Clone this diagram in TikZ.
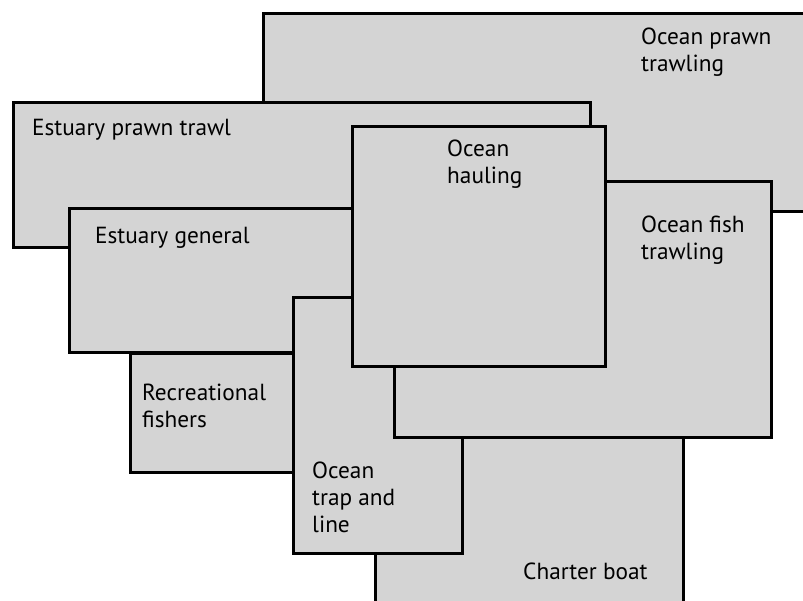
\documentclass[tikz,border=0pt]{standalone}
\usepackage{fontspec}
\setmainfont{PT Sans}
\definecolor{boxgrey}{HTML}{D4D4D4}
\tikzset{
  area/.style={draw=black, fill=boxgrey, line width=3pt, line join=miter},
  lbl/.style={anchor=base west, inner sep=0pt, align=left, font=\fontsize{23.3pt}{27pt}\selectfont}
}
\begin{document}
\begin{tikzpicture}[x=1pt,y=-1pt]
\useasboundingbox (0,0) rectangle (803,601);
\begin{scope}
\clip (0,0) rectangle (803,601);
% bottom to top
\draw[area] (263,14) rectangle (830,212);
\node[lbl] (opt) at (641,72) {Ocean prawn\\trawling};
\draw[area] (13,103) rectangle (590,248);
\node[lbl] (ept) at (32,136) {Estuary prawn trawl};
\draw[area] (69,209) rectangle (420,353);
\node[lbl] (eg) at (95,244) {Estuary general};
\draw[area] (130,354) rectangle (330,472);
\node[lbl] (rf) at (142,427) {Recreational\\fishers};
\draw[area] (375,420) rectangle (683,630);
\node[lbl] (cb) at (523,579) {Charter boat};
\draw[area] (293,298) rectangle (462,553);
\node[lbl] (otl) at (312,532) {Ocean\\trap and\\line};
\draw[area] (394,182) rectangle (771,437);
\node[lbl] (oft) at (641,260) {Ocean fish\\trawling};
\draw[area] (352,127) rectangle (605,367);
\node[lbl] (oh) at (447,184) {Ocean\\hauling};
\end{scope}
\end{tikzpicture}
\end{document}
